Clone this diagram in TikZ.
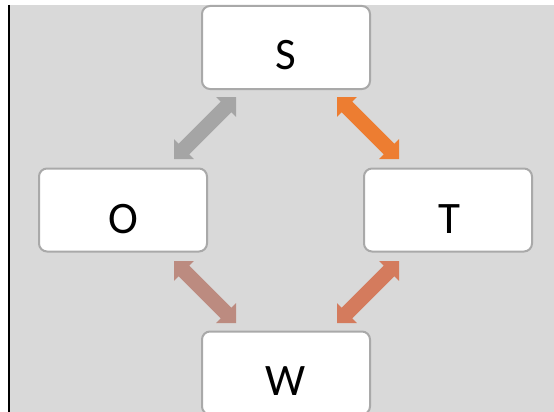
\documentclass[tikz,border=0pt]{standalone}
\usepackage{fontspec}
\setmainfont{Carlito}
\usetikzlibrary{calc}

\definecolor{panelgray}{HTML}{D9D9D9}
\definecolor{boxedge}{HTML}{A9A9A9}
\definecolor{linkgray}{HTML}{A5A5A5}
\definecolor{linkorange}{HTML}{ED7D31}
\definecolor{linkrose}{HTML}{BC8B80}
\definecolor{linkclay}{HTML}{D47B5D}

% Two-headed block arrow from tip #2 to tip #3, filled with colour #1
\newcommand\twoway[3]{%
  \fill[#1] (#2)
    -- ($(#2)!14pt!(#3)!14pt!90:(#3)$)
    -- ($(#2)!14pt!(#3)!7.5pt!90:(#3)$)
    -- ($(#3)!14pt!(#2)!7.5pt!-90:(#2)$)
    -- ($(#3)!14pt!(#2)!14pt!-90:(#2)$)
    -- (#3)
    -- ($(#3)!14pt!(#2)!14pt!90:(#2)$)
    -- ($(#3)!14pt!(#2)!7.5pt!90:(#2)$)
    -- ($(#2)!14pt!(#3)!7.5pt!-90:(#3)$)
    -- ($(#2)!14pt!(#3)!14pt!-90:(#3)$)
    -- cycle;}

\begin{document}
\begin{tikzpicture}[x=1pt,y=-1pt,
  box/.style={draw=boxedge, line width=2pt, fill=white, rounded corners=8pt,
    minimum width=168pt, minimum height=83pt, inner sep=0pt},
  letter/.style={anchor=base, inner sep=0pt, font=\fontsize{45}{45}\selectfont}]
\useasboundingbox (0,0) rectangle (554,412);
\clip (0,0) rectangle (554,412);
\fill[white] (0,0) rectangle (554,412);
\fill[panelgray] (10,5) rectangle (554,412);
\draw[line width=2pt] (9,5) -- (9,412);

% boxes
\node[box] (S) at (286,47.5) {};
\node[box] (O) at (123,210) {};
\node[box] (T) at (448,210) {};
\node[box] (W) at (286,373) {};

% letters
\node[letter] (Slbl) at (286,70) {S};
\node[letter] (Olbl) at (123,233) {O};
\node[letter] (Tlbl) at (449,233) {T};
\node[letter] (Wlbl) at (286,395) {W};

% arrow end points
\coordinate (os) at (236,97);
\coordinate (so) at (174,159);
\coordinate (st) at (337,97);
\coordinate (ts) at (399,159);
\coordinate (ow) at (174,261);
\coordinate (wo) at (236,323);
\coordinate (tw) at (399,261);
\coordinate (wt) at (337,323);

\twoway{linkgray}{os}{so}
\twoway{linkorange}{st}{ts}
\twoway{linkrose}{ow}{wo}
\twoway{linkclay}{tw}{wt}
\end{tikzpicture}
\end{document}
